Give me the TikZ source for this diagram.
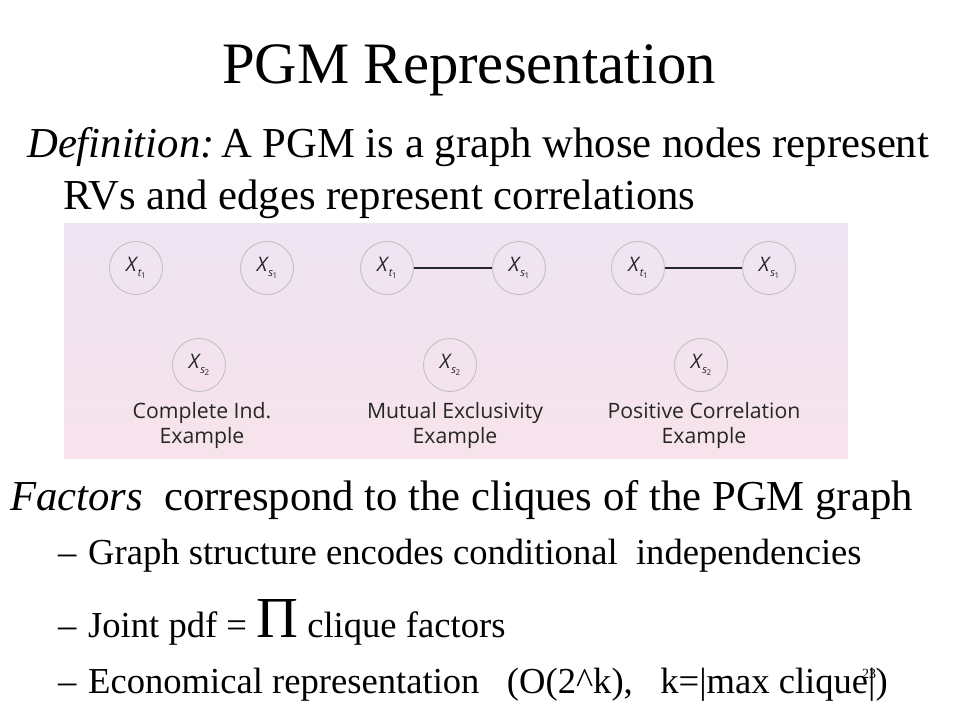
\documentclass[tikz,border=0pt]{standalone}
\usepackage{fontspec}
\setmainfont{Liberation Serif}
\newfontfamily\labelfont{Open Sans}
\usetikzlibrary{shadings}
\definecolor{paneltop}{HTML}{EEE4F2}
\definecolor{panelbot}{HTML}{F7E3EB}
\definecolor{circgray}{HTML}{BDBDBD}
\definecolor{labgray}{HTML}{262626}
\newcommand\xv[2]{\textit{X}\kern-0.5pt\raisebox{-0.25em}{\fontsize{11}{11}\selectfont\textit{#1}\kern-0.6pt\raisebox{-0.12em}{\fontsize{8}{8}\selectfont #2}}}
\tikzset{
  rv/.style={circle, draw=circgray, line width=0.8pt, minimum size=53pt, inner sep=0pt,
    font=\labelfont\fontsize{20}{20}\selectfont, text=labgray},
  edgeline/.style={line width=1.3pt, draw=black!85},
  caplabel/.style={font=\labelfont\fontsize{21.2}{26}\selectfont, text=labgray, inner sep=0pt, anchor=base},
  bodytext/.style={anchor=base west, inner sep=0pt, font=\fontsize{42.7}{45}\selectfont},
  subtext/.style={anchor=base west, inner sep=0pt, font=\fontsize{36.6}{40}\selectfont},
}
\begin{document}
\begin{tikzpicture}[x=1pt,y=-1pt]
\useasboundingbox (0,0) rectangle (960,720);
\fill[white] (0,0) rectangle (960,720);
% title
\node[anchor=base, inner sep=0pt, font=\fontsize{58.7}{60}\selectfont] (title) at (469,83) {PGM Representation};
% definition
\node[bodytext] (def1) at (27,157) {\textit{Definition:}\kern-4pt\ A PGM is a graph whose nodes represent};
\node[bodytext] (def2) at (63,209) {RVs and edges represent correlations};
% panel
\shade[top color=paneltop, bottom color=panelbot] (64,223) rectangle (848,458);
% group 1
\node[rv] (a1) at (136,268) {\xv{t}{1}};
\node[rv] (b1) at (267,268) {\xv{s}{1}};
\node[rv] (c1) at (199,365) {\xv{s}{2}};
\node[caplabel] (l1a) at (202,418) {Complete Ind.};
\node[caplabel] (l1b) at (202,443) {Example};
% group 2
\node[rv] (a2) at (387,268) {\xv{t}{1}};
\node[rv] (b2) at (519,268) {\xv{s}{1}};
\node[rv] (c2) at (450,365) {\xv{s}{2}};
\node[caplabel] (l2a) at (455,418) {Mutual Exclusivity};
\node[caplabel] (l2b) at (455,443) {Example};
\draw[edgeline] (a2) -- (b2);
% group 3
\node[rv] (a3) at (638,268) {\xv{t}{1}};
\node[rv] (b3) at (769,268) {\xv{s}{1}};
\node[rv] (c3) at (701,365) {\xv{s}{2}};
\node[caplabel] (l3a) at (704,418) {Positive Correlation};
\node[caplabel] (l3b) at (704,443) {Example};
\draw[edgeline] (a3) -- (b3);
% factors
\node[bodytext] (fac) at (10,510) {\textit{Factors}\ \ correspond to the cliques of the PGM graph};
\node[subtext] (d1) at (58,564) {–};
\node[subtext] (s1) at (88,564) {Graph structure encodes conditional\ \ independencies};
\node[subtext] (d2) at (58,637) {–};
\node[subtext] (s2) at (88,637) {Joint pdf = {\fontsize{58}{58}\selectfont Π} clique factors};
\node[subtext] (d3) at (58,693) {–};
\node[subtext] (s3) at (88,693) {Economical representation\ \ \ (O(2\^{}k),\ \ \ k=|max clique|)};
\node[anchor=base west, inner sep=0pt, font=\fontsize{14}{14}\selectfont] (pg) at (862,678) {23};
\end{tikzpicture}
\end{document}
